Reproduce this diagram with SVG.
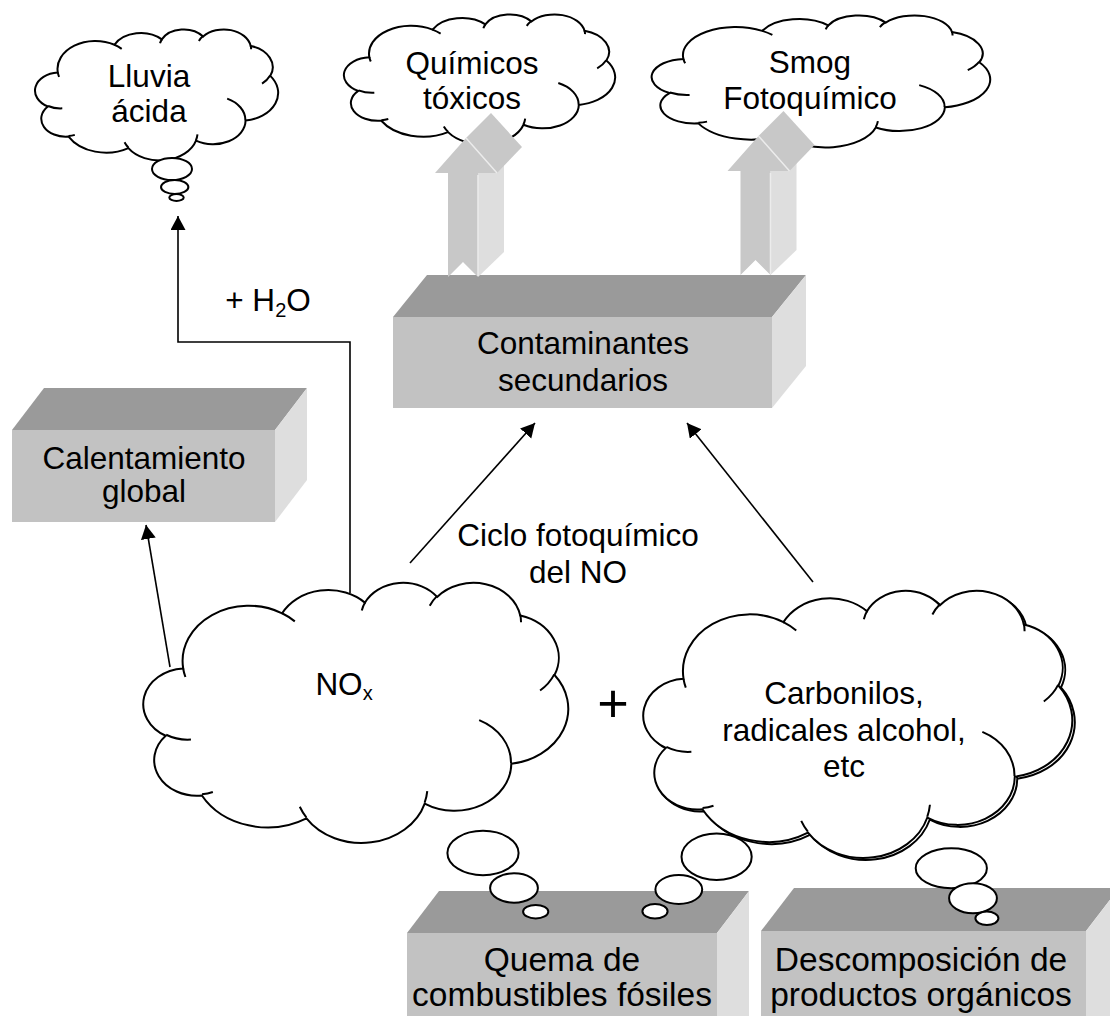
<svg xmlns="http://www.w3.org/2000/svg" width="1110" height="1016" viewBox="0 0 1110 1016">
<style>
 text{font-family:"Liberation Sans",Arial,Helvetica,sans-serif;font-size:31.5px;fill:#000;text-anchor:middle}
 .big{font-size:33.5px}
 .top{fill:#9a9a9a}
 .front{fill:#c2c2c2}
 .side{fill:#dedede}
 .cloud{fill:#fff;stroke:#000;stroke-width:2}
 .hook{fill:none;stroke:#000;stroke-width:2}
 .bub{fill:#fff;stroke:#000;stroke-width:2}
 .conn{fill:none;stroke:#000;stroke-width:1.6}
 .af{fill:#c8c8c8}
 .as{fill:#dedede}
 .ah{fill:none;stroke:#ececec;stroke-width:1.5}
</style>
<defs>
 <path id="cloudOut" vector-effect="non-scaling-stroke" d="M9.03 33.26 A15.63 21.27 0 0 1 32.42 12.04 A12.345 16.822 0 0 1 51.98 7.94 A10.104 13.762 0 0 1 69.06 5.74 A11.243 15.266 0 0 1 88.71 12.9 A12.345 16.836 0 0 1 96.82 35.78 A15.683 21.343 0 0 1 86.6 69.91 A13.391 18.211 0 0 1 66.12 85.21 A15.63 21.331 0 0 1 38.17 90.89 A17.87 24.405 0 0 1 13.45 82.1 A10.093 13.699 0 0 1 4.9 59.13 A10.058 13.762 0 0 1 9.03 33.26 Z"/>
 <path id="cloudIn" vector-effect="non-scaling-stroke" d="M10.86 60.59 A10.058 13.762 0 0 1 5 58.75 M16.04 80.79 A10.093 13.699 0 0 1 13.48 81.68 M38.14 90.49 A15.63 21.331 0 0 1 36.59 86.46 M66.73 80.44 A15.63 21.331 0 0 1 66.11 84.86 M79 53.13 A13.391 18.211 0 0 1 86.53 69.65 M96.75 35.54 A12.345 16.836 0 0 1 93.4 41.74 M88.71 12.56 A11.243 15.266 0 0 1 88.89 15.49 M67.31 9.15 A11.243 15.266 0 0 1 69.02 5.42 M51.25 10.93 A10.104 13.762 0 0 1 52.08 7.71 M32.41 12.02 A15.63 21.27 0 0 1 35.42 15.14 M9.55 36.55 A15.63 21.27 0 0 1 9.02 33.27"/>
 <marker id="arr" markerUnits="userSpaceOnUse" markerWidth="15" markerHeight="16" refX="14" refY="7.5" orient="auto"><path d="M0 0 L14 7.5 L0 15 Z" fill="#000"/></marker>
</defs>
<rect width="1110" height="1016" fill="#fff"/>

<g id="calentamiento">
 <polygon class="top" points="12,430 44,388 307,388 275,430"/>
 <polygon class="side" points="275,430 307,388 307,480 275,522"/>
 <rect class="front" x="12" y="430" width="263" height="92"/>
 <text x="144" y="469">Calentamiento</text>
 <text x="144" y="502">global</text>
</g>

<g id="contaminantes">
 <polygon class="top" points="393,317 427,275 806,275 772,317"/>
 <polygon class="side" points="772,317 806,275 806,366 772,408"/>
 <rect class="front" x="393" y="317" width="379" height="91"/>
 <text x="583" y="354">Contaminantes</text>
 <text x="583" y="391">secundarios</text>
</g>

<g id="quema">
 <polygon class="top" points="407,933 439,891 749,891 717,933"/>
 <polygon class="side" points="717,933 749,891 749,1016 717,1016"/>
 <rect class="front" x="407" y="933" width="310" height="83"/>
 <text class="big" x="562" y="971">Quema de</text>
 <text class="big" x="562" y="1006">combustibles fósiles</text>
</g>

<g id="descomposicion">
 <polygon class="top" points="761,931 794,888 1119,888 1086,931"/>
 <polygon class="side" points="1086,931 1119,888 1119,1016 1086,1016"/>
 <rect class="front" x="761" y="931" width="325" height="85"/>
 <text class="big" x="921" y="971">Descomposición de</text>
 <text class="big" x="921" y="1006">productos orgánicos</text>
</g>

<g id="connectors">
 <path class="conn" d="M350 593 V342 H178 V216" marker-end="url(#arr)"/>
 <path class="conn" d="M170 667 L146 525" marker-end="url(#arr)"/>
 <path class="conn" d="M410 563 L535 423" marker-end="url(#arr)"/>
 <path class="conn" d="M813 582 L687 423" marker-end="url(#arr)"/>
 <text x="268" y="311">+ H<tspan font-size="20" dy="6">2</tspan><tspan dy="-6">O</tspan></text>
 <text x="578" y="546">Ciclo fotoquímico</text>
 <text x="578" y="583">del NO</text>
 <text x="613" y="722" style="font-size:54px">+</text>
</g>

<g id="nox">
 <g transform="translate(145 582) scale(4.23 2.6)">
  <use href="#cloudOut" class="cloud"/>
  <use href="#cloudIn" class="hook"/>
 </g>
 <ellipse class="bub" cx="483" cy="853" rx="35.6" ry="22.2"/>
 <ellipse class="bub" cx="514" cy="888" rx="23.9" ry="14.7"/>
 <ellipse class="bub" cx="535.7" cy="911.7" rx="12.6" ry="6.7"/>
 <text x="344" y="695">NO<tspan font-size="20" dy="5">x</tspan></text>
</g>

<g id="carbonilos">
 <g transform="translate(647.5 592) scale(4.27 2.67)">
  <use href="#cloudOut" class="cloud"/>
  <use href="#cloudIn" class="hook"/>
 </g>
 <ellipse class="bub" cx="951.3" cy="868.3" rx="35.6" ry="20"/>
 <ellipse class="bub" cx="973" cy="898.3" rx="23.9" ry="15"/>
 <ellipse class="bub" cx="986.9" cy="918.3" rx="11.5" ry="6.7"/>
 <g transform="translate(645 590) scale(4.27 2.67)">
  <use href="#cloudOut" class="cloud"/>
  <use href="#cloudIn" class="hook"/>
 </g>
 <ellipse class="bub" cx="716.6" cy="856.7" rx="35.1" ry="23.3"/>
 <ellipse class="bub" cx="678.8" cy="889.5" rx="23.4" ry="14.5"/>
 <ellipse class="bub" cx="655" cy="911.2" rx="12.6" ry="7.2"/>
 <text x="844" y="704">Carbonilos,</text>
 <text x="844" y="741">radicales alcohol,</text>
 <text x="844" y="777">etc</text>
</g>

<g id="lluvia">
 <g transform="translate(36 29) scale(2.42 1.31)">
  <use href="#cloudOut" class="cloud"/>
  <use href="#cloudIn" class="hook"/>
 </g>
 <ellipse class="bub" cx="172" cy="169" rx="20" ry="11"/>
 <ellipse class="bub" cx="174.7" cy="187" rx="13.7" ry="7"/>
 <ellipse class="bub" cx="176.5" cy="197.5" rx="7.2" ry="3.5"/>
 <text x="149" y="87">Lluvia</text>
 <text x="149" y="122">ácida</text>
</g>

<g id="quimicos">
 <g transform="translate(345 14) scale(2.7 1.3)">
  <use href="#cloudOut" class="cloud"/>
  <use href="#cloudIn" class="hook"/>
 </g>
 <text x="472" y="74">Químicos</text>
 <text x="472" y="109">tóxicos</text>
</g>

<g id="smog">
 <g transform="translate(653 15) scale(3.37 1.32)">
  <use href="#cloudOut" class="cloud"/>
  <use href="#cloudIn" class="hook"/>
 </g>
 <text x="810" y="73">Smog</text>
 <text x="810" y="109">Fotoquímico</text>
</g>

<g id="arrow-quimicos">
 <polygon class="as" points="478,173 504,147 504,252 478,277"/>
 <polygon class="af" points="466,138 491,113 522,147 497,173"/>
 <polygon class="af" points="448,277 463,262 478,277 478,173 497,173 466,138 435,173 448,173"/>
 <path class="ah" d="M466 138 L497 173 M478 175 V276"/>
</g>

<g id="arrow-smog" transform="translate(292.5 -2)">
 <polygon class="as" points="478,173 504,147 504,252 478,277"/>
 <polygon class="af" points="466,138 491,113 522,147 497,173"/>
 <polygon class="af" points="448,277 463,262 478,277 478,173 497,173 466,138 435,173 448,173"/>
 <path class="ah" d="M466 138 L497 173 M478 175 V276"/>
</g>
</svg>
